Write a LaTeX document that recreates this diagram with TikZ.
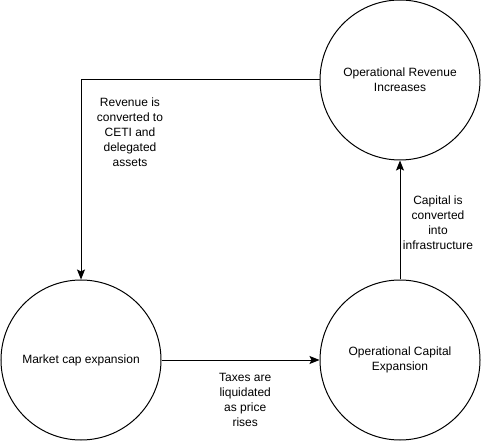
\documentclass[tikz,border=0pt]{standalone}
\usepackage{fontspec}
\setmainfont{Liberation Sans}
\usetikzlibrary{arrows.meta}

\begin{document}
\begin{tikzpicture}[x=0.75pt, y=-0.75pt,
    phase/.style={circle, draw=black, line width=0.75pt, minimum size=120pt, inner sep=0pt,
      align=center, font=\fontsize{9}{11.25}\selectfont},
    flow/.style={line width=0.75pt, -{Stealth[length=7.5pt, width=6pt, inset=1.5pt]}},
    lbl/.style={align=center, inner sep=0pt, font=\fontsize{9}{11.25}\selectfont}]
    \useasboundingbox (0,0) rectangle (481,441);

    \node[phase](R) at (400.00, 80.00){Operational Revenue\\Increases};
    \node[phase](M) at (81.00, 360.00){Market cap expansion};
    \node[phase](C) at (400.00, 360.00){Operational Capital\\Expansion};

    \draw[flow] (R.west) -| node[lbl, pos=0.63, xshift=36.75pt](){Revenue is\\converted to\\CETI and\\delegated\\assets} (M.north);
    \draw[flow] (M) -- node[lbl, pos=0.53, yshift=-30pt](){Taxes are\\liquidated\\as price\\rises} (C);
    \draw[flow] (C) -- node[lbl, pos=0.48, xshift=28.5pt](){Capital is\\converted\\into\\infrastructure} (R);
  \end{tikzpicture}
\end{document}
